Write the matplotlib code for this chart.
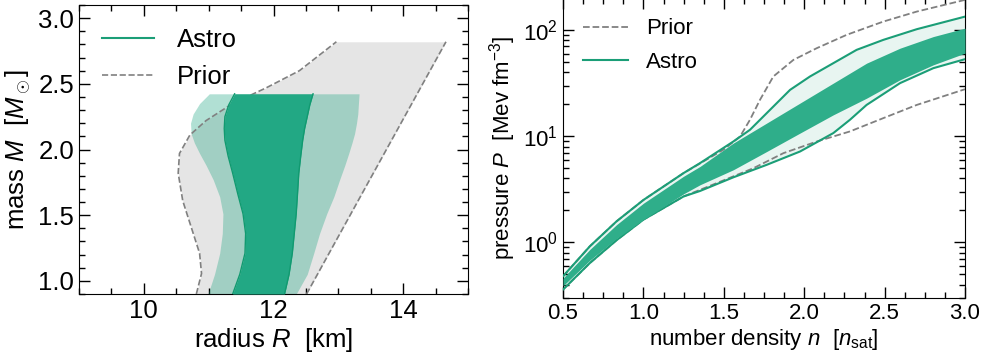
import numpy as np
import matplotlib
matplotlib.use("Agg")
import matplotlib.pyplot as plt
from matplotlib.ticker import MultipleLocator, LogLocator, NullFormatter

plt.rcParams['font.family'] = ['Liberation Sans', 'DejaVu Sans']
plt.rcParams['mathtext.fontset'] = 'custom'
plt.rcParams['mathtext.rm'] = 'Liberation Sans'
plt.rcParams['mathtext.it'] = 'Liberation Sans:italic'
plt.rcParams['mathtext.bf'] = 'Liberation Sans:bold'

# ---- mass-radius panel data ----
prior_M = [0.9, 1.056, 1.21, 1.41, 1.61, 1.82, 1.97, 2.11, 2.22, 2.35, 2.47, 2.60, 2.82]
prior_R_lo = [10.81, 10.89, 10.86, 10.73, 10.60, 10.53, 10.55, 10.71, 10.96, 11.37, 11.89, 12.40, 12.97]
prior_R_hi = [12.51, 12.685, 12.857, 13.081, 13.305, 13.54, 13.708, 13.865, 13.988, 14.134, 14.268, 14.414, 14.66]

astro90_M = [0.9, 1.05, 1.21, 1.36, 1.51, 1.64, 1.77, 1.88, 1.97, 2.05, 2.12, 2.20, 2.27, 2.35, 2.424]
astro90_R_lo = [10.99, 11.09, 11.17, 11.21, 11.22, 11.17, 11.07, 10.96, 10.86, 10.78, 10.73, 10.72, 10.76, 10.86, 11.01]
astro90_R_hi = [12.35, 12.52, 12.62, 12.71, 12.82, 12.93, 13.02, 13.10, 13.16, 13.21, 13.25, 13.28, 13.30, 13.31, 13.32]

astro68_M = [0.9, 1.05, 1.21, 1.36, 1.51, 1.66, 1.82, 1.95, 2.07, 2.16, 2.25, 2.34, 2.424]
astro68_R_lo = [11.37, 11.48, 11.56, 11.57, 11.53, 11.45, 11.37, 11.30, 11.25, 11.24, 11.25, 11.31, 11.40]
astro68_R_hi = [12.17, 12.24, 12.29, 12.32, 12.35, 12.37, 12.39, 12.42, 12.45, 12.48, 12.52, 12.56, 12.61]

# ---- pressure-density panel data ----
n90_up = [0.5, 0.667, 0.833, 1.0, 1.25, 1.352, 1.559, 1.663, 1.767, 1.912, 2.036, 2.181, 2.326, 2.492, 2.70, 3.0]
P90_up = [0.48, 0.92, 1.58, 2.51, 4.50, 5.58, 8.91, 11.5, 16.5, 27.3, 36.5, 48.7, 65.0, 80.7, 101.7, 133.6]
n90_lo = [0.5, 0.667, 0.833, 1.0, 1.25, 1.352, 1.559, 1.767, 1.974, 2.181, 2.285, 2.388, 2.596, 2.803, 3.0]
P90_lo = [0.36, 0.64, 1.05, 1.64, 2.71, 3.05, 4.1, 5.38, 7.18, 10.7, 14.3, 19.7, 31.6, 43.7, 53.1]

n68 = [0.5, 0.667, 0.833, 1.0, 1.25, 1.352, 1.559, 1.767, 1.974, 2.181, 2.388, 2.596, 2.803, 3.0]
P68_up = [0.46, 0.86, 1.47, 2.34, 4.20, 5.19, 8.61, 13.3, 20.5, 31.6, 48.7, 67.4, 86.7, 104.0]
P68_lo = [0.39, 0.68, 1.09, 1.64, 2.87, 3.49, 4.83, 7.18, 10.7, 15.9, 22.8, 34.0, 47.0, 60.5]

n_prior_up = [0.5, 0.667, 0.833, 1.0, 1.25, 1.5, 1.601, 1.663, 1.725, 1.808, 1.933, 2.078, 2.264, 2.492, 2.70, 3.0]
P_prior_up = [0.48, 0.92, 1.58, 2.51, 4.50, 7.5, 9.93, 14.3, 22.0, 36.5, 52.3, 67.4, 90.0, 120.0, 149.0, 192.0]
n_prior_lo = [0.5, 0.667, 0.833, 1.0, 1.25, 1.5, 1.684, 1.871, 2.078, 2.285, 2.492, 2.70, 3.0]
P_prior_lo = [0.36, 0.64, 1.05, 1.64, 2.71, 3.85, 5.0, 6.93, 8.91, 11.1, 14.8, 19.7, 27.7]

teal = '#1b9e77'
dark = '#22a884'
gray_fill = '#e5e5e5'
gray_line = '#808080'

fig = plt.figure(figsize=(9.84, 3.56), dpi=100)

# ---------------- left: M-R ----------------
ax1 = fig.add_axes([79/984, 1-294/356, 389/984, 289/356])
ax1.fill_betweenx(prior_M, prior_R_lo, prior_R_hi, color=gray_fill, lw=0, zorder=1)
ax1.fill_betweenx(astro90_M, astro90_R_lo, astro90_R_hi, color=dark, alpha=0.35, lw=0, zorder=2)
ax1.plot(prior_R_lo, prior_M, ls='--', color=gray_line, lw=1.2, zorder=3)
ax1.plot(prior_R_hi, prior_M, ls='--', color=gray_line, lw=1.2, zorder=3)
ax1.fill_betweenx(astro68_M, astro68_R_lo, astro68_R_hi, color=dark, lw=0, zorder=4)
ax1.plot(astro68_R_lo, astro68_M, color='#119a70', lw=1.0, zorder=5)
ax1.plot(astro68_R_hi, astro68_M, color='#119a70', lw=1.0, zorder=5)

ax1.plot([], [], color=teal, lw=1.5, label='Astro')
ax1.plot([], [], color=gray_line, ls='--', lw=1.2, label='Prior')

ax1.set_xlim(9, 15)
ax1.set_ylim(0.9, 3.1)
ax1.xaxis.set_major_locator(MultipleLocator(2))
ax1.xaxis.set_minor_locator(MultipleLocator(0.5))
ax1.yaxis.set_major_locator(MultipleLocator(0.5))
ax1.yaxis.set_minor_locator(MultipleLocator(0.1))
ax1.set_xlabel(r'radius $R$  [km]', fontsize=18.5, labelpad=2)
ax1.set_ylabel(r'mass $M$  [$M_\odot$]', fontsize=18.5, labelpad=4)
ax1.tick_params(axis='both', which='both', direction='in', top=True, right=True, labelsize=18.5)
ax1.tick_params(which='major', length=8, width=1)
ax1.tick_params(which='minor', length=4.5, width=1)
ax1.legend(loc='upper left', frameon=False, fontsize=18.5, handlelength=2.0,
           handletextpad=0.9, labelspacing=0.52, borderaxespad=0.5)

# ---------------- right: P-n ----------------
ax2 = fig.add_axes([563/984, 1-298/356, 402/984, 300/356])
ax2.fill(n90_up + n90_lo[::-1], P90_up + P90_lo[::-1], color='#e8f5f1', lw=0, zorder=1)
ax2.plot(n_prior_up, P_prior_up, ls='--', color=gray_line, lw=1.3, zorder=2)
ax2.plot(n_prior_lo, P_prior_lo, ls='--', color=gray_line, lw=1.3, zorder=2)
ax2.plot(n90_up, P90_up, color=teal, lw=1.5, zorder=3)
ax2.plot(n90_lo, P90_lo, color=teal, lw=1.5, zorder=3)
ax2.fill_between(n68, P68_lo, P68_up, color='#2fae8a', lw=0, zorder=4)

ax2.plot([], [], color=gray_line, ls='--', lw=1.3, label='Prior')
ax2.plot([], [], color=teal, lw=1.5, label='Astro')

ax2.set_yscale('log')
ax2.set_xlim(0.5, 3.0)
ax2.set_ylim(0.3, 200)
ax2.xaxis.set_major_locator(MultipleLocator(0.5))
ax2.xaxis.set_minor_locator(MultipleLocator(0.125))
ax2.yaxis.set_major_locator(LogLocator(base=10))
ax2.yaxis.set_minor_locator(LogLocator(base=10, subs=np.arange(2, 10)))
ax2.yaxis.set_minor_formatter(NullFormatter())
ax2.set_xlabel(r'number density $n$  [$n_{\rm sat}$]', fontsize=16, labelpad=2)
ax2.set_ylabel(r'pressure $P$  [Mev fm$^{-3}$]', fontsize=16, labelpad=4)
ax2.tick_params(axis='both', which='both', direction='in', top=True, right=True, labelsize=16)
ax2.tick_params(which='major', length=8, width=1)
ax2.tick_params(which='minor', length=4.5, width=1)
ax2.legend(loc='upper left', frameon=False, fontsize=16, handlelength=2.0,
           handletextpad=0.8, labelspacing=0.56, borderaxespad=0.52)

fig.savefig('out.png', dpi=100)
